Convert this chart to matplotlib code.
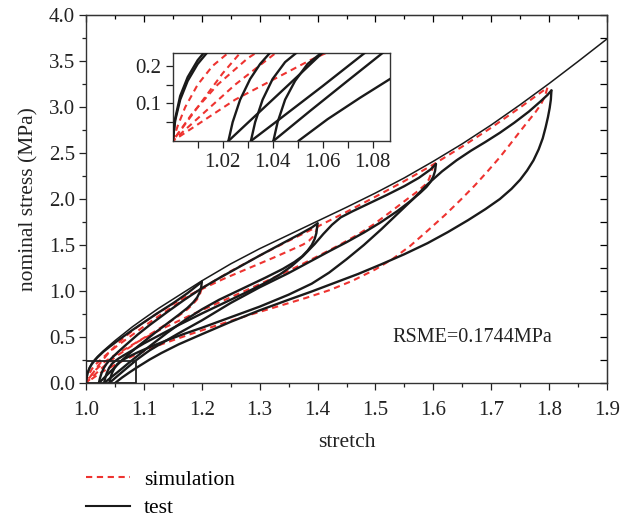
import matplotlib
matplotlib.use("Agg")
import matplotlib.pyplot as plt
from matplotlib.lines import Line2D
from matplotlib.patches import Rectangle
from matplotlib.ticker import MultipleLocator, FixedLocator, FormatStrFormatter

plt.rcParams['font.family'] = ['Liberation Serif', 'DejaVu Serif']

# ---- test data: monotonic loading curve ----
mono_stretch = [1.000, 1.001, 1.003, 1.006, 1.010, 1.015, 1.020, 1.030, 1.040, 1.050, 1.060, 1.080,
                1.100, 1.125, 1.150, 1.175, 1.200, 1.250, 1.300, 1.350, 1.400, 1.450, 1.500,
                1.550, 1.600, 1.650, 1.700, 1.750, 1.800, 1.850, 1.900]
mono_stress = [0.00, 0.06, 0.12, 0.17, 0.215, 0.255, 0.29, 0.35, 0.405, 0.46, 0.51, 0.61,
               0.70, 0.81, 0.91, 1.01, 1.11, 1.295, 1.46, 1.61, 1.76, 1.91, 2.065,
               2.23, 2.41, 2.60, 2.805, 3.025, 3.255, 3.495, 3.74]

# ---- test data: cyclic loading (load) / unloading (unload) ----
load1_stretch = [1.000, 1.001, 1.003, 1.006, 1.010, 1.015, 1.020, 1.030, 1.040, 1.060, 1.080,
                 1.100, 1.125, 1.150, 1.175, 1.200]
load1_stress = [0.00, 0.055, 0.11, 0.16, 0.205, 0.245, 0.28, 0.34, 0.39, 0.485, 0.575,
                0.66, 0.765, 0.865, 0.975, 1.10]
unload1_stretch = [1.200, 1.199, 1.196, 1.192, 1.185, 1.175, 1.160, 1.140, 1.120, 1.105, 1.090,
                   1.075, 1.060, 1.050, 1.040, 1.030, 1.0223]
unload1_stress = [1.10, 1.04, 0.98, 0.93, 0.875, 0.815, 0.74, 0.645, 0.55, 0.475, 0.40,
                  0.32, 0.235, 0.172, 0.11, 0.048, 0.00]

load2_stretch = [1.0223, 1.024, 1.027, 1.031, 1.035, 1.039, 1.045, 1.055, 1.070, 1.090, 1.110,
                 1.140, 1.170, 1.200, 1.230, 1.260, 1.300, 1.340, 1.370, 1.390, 1.400]
load2_stress = [0.00, 0.05, 0.11, 0.165, 0.205, 0.235, 0.275, 0.335, 0.42, 0.53, 0.63,
                0.77, 0.905, 1.03, 1.14, 1.245, 1.385, 1.52, 1.62, 1.69, 1.735]
unload2_stretch = [1.400, 1.398, 1.395, 1.390, 1.383, 1.373, 1.360, 1.340, 1.310, 1.270, 1.230,
                   1.200, 1.170, 1.140, 1.110, 1.090, 1.077, 1.060, 1.050, 1.040, 1.0313]
unload2_stress = [1.735, 1.63, 1.565, 1.50, 1.44, 1.375, 1.315, 1.24, 1.145, 1.025, 0.905,
                  0.80, 0.68, 0.545, 0.40, 0.30, 0.235, 0.146, 0.095, 0.044, 0.00]

load3_stretch = [1.0313, 1.033, 1.036, 1.040, 1.045, 1.0496, 1.056, 1.065, 1.080, 1.100, 1.130,
                 1.160, 1.200, 1.240, 1.280, 1.310, 1.335, 1.355, 1.375, 1.395, 1.410, 1.425,
                 1.440, 1.460, 1.490, 1.520, 1.550, 1.575, 1.595, 1.6045]
load3_stress = [0.00, 0.05, 0.11, 0.165, 0.21, 0.235, 0.265, 0.30, 0.355, 0.43, 0.53,
                0.63, 0.755, 0.875, 0.995, 1.09, 1.18, 1.27, 1.38, 1.51, 1.62, 1.72,
                1.80, 1.865, 1.955, 2.045, 2.14, 2.23, 2.32, 2.38]
unload3_stretch = [1.6045, 1.603, 1.600, 1.595, 1.588, 1.577, 1.560, 1.537, 1.510, 1.480, 1.450,
                   1.421, 1.390, 1.350, 1.300, 1.250, 1.200, 1.160, 1.130, 1.110, 1.100, 1.087,
                   1.070, 1.055, 1.0403]
unload3_stress = [2.38, 2.305, 2.245, 2.185, 2.13, 2.065, 1.975, 1.865, 1.75, 1.635, 1.53,
                  1.435, 1.33, 1.195, 1.04, 0.87, 0.68, 0.54, 0.43, 0.355, 0.31, 0.25,
                  0.16, 0.08, 0.00]

load4_stretch = [1.0403, 1.042, 1.045, 1.049, 1.054, 1.0596, 1.066, 1.075, 1.090, 1.110, 1.140,
                 1.170, 1.200, 1.250, 1.300, 1.350, 1.390, 1.420, 1.450, 1.480, 1.510, 1.540,
                 1.565, 1.590, 1.615, 1.640, 1.665, 1.690, 1.715, 1.740, 1.765, 1.785, 1.797,
                 1.804]
load4_stress = [0.00, 0.05, 0.11, 0.16, 0.205, 0.235, 0.26, 0.29, 0.335, 0.39, 0.465,
                0.535, 0.60, 0.715, 0.83, 0.96, 1.08, 1.20, 1.345, 1.50, 1.67, 1.85,
                2.00, 2.16, 2.30, 2.42, 2.525, 2.62, 2.72, 2.83, 2.95, 3.06, 3.13,
                3.18]
unload4_stretch = [1.804, 1.803, 1.801, 1.798, 1.794, 1.789, 1.782, 1.773, 1.762, 1.750, 1.735,
                   1.715, 1.690, 1.660, 1.625, 1.590, 1.550, 1.510, 1.470, 1.430, 1.390, 1.350,
                   1.300, 1.250, 1.200, 1.160, 1.130, 1.110, 1.087, 1.075, 1.062, 1.0503]
unload4_stress = [3.18, 3.08, 2.99, 2.89, 2.78, 2.66, 2.54, 2.42, 2.31, 2.21, 2.11,
                  2.00, 1.89, 1.77, 1.64, 1.52, 1.40, 1.29, 1.185, 1.09, 0.995, 0.905,
                  0.79, 0.665, 0.53, 0.42, 0.325, 0.255, 0.165, 0.115, 0.058, 0.00]

# ---- simulation data ----
sim_load_stretch = [1.000, 1.002, 1.005, 1.010, 1.016, 1.0223, 1.030, 1.040, 1.055, 1.075, 1.100,
                    1.125, 1.150, 1.175, 1.200, 1.250, 1.300, 1.350, 1.400, 1.450, 1.500,
                    1.550, 1.600, 1.650, 1.700, 1.750, 1.797]
sim_load_stress = [0.00, 0.04, 0.09, 0.15, 0.20, 0.235, 0.28, 0.335, 0.41, 0.50, 0.615,
                   0.725, 0.83, 0.93, 1.03, 1.215, 1.385, 1.545, 1.70, 1.86, 2.025,
                   2.195, 2.375, 2.57, 2.775, 2.995, 3.21]
sim_unload1_stretch = [1.200, 1.197, 1.192, 1.185, 1.175, 1.160, 1.140, 1.120, 1.100, 1.080,
                       1.060, 1.045, 1.030, 1.018, 1.008, 1.000]
sim_unload1_stress = [1.03, 0.97, 0.91, 0.86, 0.80, 0.73, 0.645, 0.565, 0.49, 0.415,
                      0.34, 0.285, 0.22, 0.15, 0.075, 0.00]
sim_unload2_stretch = [1.400, 1.397, 1.392, 1.385, 1.375, 1.352, 1.325, 1.295, 1.265, 1.237,
                       1.210, 1.180, 1.150, 1.120, 1.090, 1.065, 1.040, 1.020, 1.000]
sim_unload2_stress = [1.70, 1.64, 1.59, 1.545, 1.505, 1.44, 1.365, 1.285, 1.205, 1.13,
                      1.05, 0.96, 0.86, 0.745, 0.615, 0.49, 0.335, 0.18, 0.00]
sim_unload3_stretch = [1.600, 1.597, 1.592, 1.585, 1.570, 1.554, 1.525, 1.496, 1.470, 1.439,
                       1.421, 1.390, 1.352, 1.295, 1.237, 1.180, 1.130, 1.090, 1.052, 1.025,
                       1.000]
sim_unload3_stress = [2.375, 2.29, 2.21, 2.15, 2.07, 1.995, 1.855, 1.72, 1.615, 1.505,
                      1.445, 1.345, 1.225, 1.06, 0.895, 0.735, 0.585, 0.45, 0.29, 0.15,
                      0.00]
sim_unload4_stretch = [1.797, 1.793, 1.786, 1.776, 1.763, 1.748, 1.732, 1.715, 1.695, 1.672,
                       1.647, 1.620, 1.590, 1.560, 1.530, 1.500, 1.460, 1.421, 1.380, 1.330,
                       1.280, 1.230, 1.180, 1.130, 1.090, 1.055, 1.025, 1.000]
sim_unload4_stress = [3.21, 3.12, 3.03, 2.94, 2.84, 2.72, 2.59, 2.455, 2.31, 2.15,
                      1.99, 1.825, 1.655, 1.49, 1.35, 1.235, 1.11, 1.01, 0.925, 0.83,
                      0.735, 0.635, 0.53, 0.42, 0.32, 0.215, 0.11, 0.00]

rmse_text = "RSME=0.1744MPa"

test_cycles = [
    (load1_stretch, load1_stress), (unload1_stretch, unload1_stress),
    (load2_stretch, load2_stress), (unload2_stretch, unload2_stress),
    (load3_stretch, load3_stress), (unload3_stretch, unload3_stress),
    (load4_stretch, load4_stress), (unload4_stretch, unload4_stress),
]
sim_curves = [
    (sim_load_stretch, sim_load_stress),
    (sim_unload1_stretch, sim_unload1_stress),
    (sim_unload2_stretch, sim_unload2_stress),
    (sim_unload3_stretch, sim_unload3_stress),
    (sim_unload4_stretch, sim_unload4_stress),
]

RED = '#ee3330'
INK = '#1a1a1a'
TXT = '#222222'
DASH = (3.0, 2.2)


def draw_curves(ax, lw_test, lw_mono, lw_sim):
    for s, p in sim_curves:
        ax.plot(s, p, color=RED, lw=lw_sim, dashes=DASH, zorder=2)
    ax.plot(mono_stretch, mono_stress, color=INK, lw=lw_mono, zorder=3)
    for s, p in test_cycles:
        ax.plot(s, p, color=INK, lw=lw_test, zorder=3,
                solid_joinstyle='round', solid_capstyle='round')


W, H = 633, 517
fig = plt.figure(figsize=(W / 100, H / 100), dpi=100)

# main axes
ax = fig.add_axes([86 / W, 1 - 383 / H, (607 - 86) / W, (383 - 15) / H])
draw_curves(ax, 1.7, 1.1, 1.5)
ax.set_xlim(1.0, 1.9)
ax.set_ylim(0.0, 4.0)
ax.xaxis.set_major_locator(MultipleLocator(0.1))
ax.xaxis.set_minor_locator(MultipleLocator(0.05))
ax.yaxis.set_major_locator(MultipleLocator(0.5))
ax.yaxis.set_minor_locator(MultipleLocator(0.25))
ax.xaxis.set_major_formatter(FormatStrFormatter('%.1f'))
ax.yaxis.set_major_formatter(FormatStrFormatter('%.1f'))
ax.tick_params(which='both', direction='out', top=False, right=False,
               labelsize=15, width=0.9, colors=TXT)
ax.tick_params(which='major', length=5)
ax.tick_params(which='minor', length=3)
ax.tick_params(axis='x', which='major', pad=8)
ax.tick_params(axis='y', which='major', pad=3)
for sp in ax.spines.values():
    sp.set_linewidth(1.0)
    sp.set_color('#333333')

# inward ticks on the top and right edges
ax_top = ax.secondary_xaxis('top')
ax_top.xaxis.set_major_locator(MultipleLocator(0.1))
ax_top.xaxis.set_minor_locator(MultipleLocator(0.05))
ax_top.tick_params(which='both', direction='in', labeltop=False, width=0.9)
ax_top.tick_params(which='major', length=5)
ax_top.tick_params(which='minor', length=3)
ax_right = ax.secondary_yaxis('right')
ax_right.yaxis.set_major_locator(MultipleLocator(0.5))
ax_right.yaxis.set_minor_locator(MultipleLocator(0.25))
ax_right.tick_params(which='both', direction='in', labelright=False, width=0.9)
ax_right.tick_params(which='major', length=5)
ax_right.tick_params(which='minor', length=5)

ax.set_xlabel('stretch', fontsize=15.5, labelpad=9, color=TXT)
ax.set_ylabel('nominal stress (MPa)', fontsize=15.5, labelpad=7, color=TXT)
ax.text(1.530, 0.50, rmse_text, fontsize=14.5, va='center', ha='left', color=TXT)

# zoom window outline
ax.add_patch(Rectangle((1.0, 0.0), 0.087, 0.235, fill=False, ec=TXT, lw=1.3, zorder=4))

# inset axes
axin = fig.add_axes([172.7 / W, 1 - 141 / H, (390 - 172.7) / W, (141 - 52.7) / H])
draw_curves(axin, 1.7, 1.7, 1.5)
axin.set_xlim(1.0, 1.087)
axin.set_ylim(0.0, 0.235)
axin.xaxis.set_major_locator(FixedLocator([1.02, 1.04, 1.06, 1.08]))
axin.xaxis.set_minor_locator(FixedLocator([1.01, 1.03, 1.05, 1.07]))
axin.yaxis.set_major_locator(FixedLocator([0.1, 0.2]))
axin.yaxis.set_minor_locator(FixedLocator([0.05, 0.15]))
axin.xaxis.set_major_formatter(FormatStrFormatter('%.2f'))
axin.yaxis.set_major_formatter(FormatStrFormatter('%.1f'))
axin.tick_params(which='both', direction='out', labelsize=15, width=0.9, colors=TXT)
axin.tick_params(which='major', length=5)
axin.tick_params(which='minor', length=5)
for sp in axin.spines.values():
    sp.set_linewidth(1.0)
    sp.set_color('#333333')

# legend below the plot
handles = [Line2D([], [], color=RED, lw=1.5, dashes=DASH),
           Line2D([], [], color=INK, lw=1.5)]
fig.legend(handles, ['simulation', 'test'], loc='upper left',
           bbox_to_anchor=(77 / W, 1 - 461 / H), frameon=False, fontsize=15.5,
           handlelength=2.05, handletextpad=0.65, labelspacing=0.4, borderaxespad=0)

fig.savefig('out.png', dpi=100)
